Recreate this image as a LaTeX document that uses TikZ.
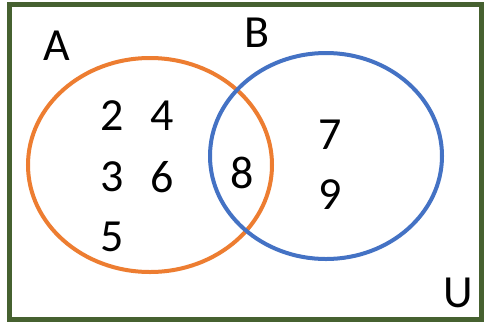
\documentclass[tikz,border=0pt]{standalone}
\usepackage{fontspec}
\setmainfont{Carlito}
\definecolor{frameG}{HTML}{466130}
\definecolor{setA}{HTML}{ED7D31}
\definecolor{setB}{HTML}{4472C4}
\begin{document}
\begin{tikzpicture}[x=1pt,y=-1pt,
  lbl/.style={inner sep=0pt, font=\fontsize{46}{46}\selectfont, text=black}]
\useasboundingbox (0,0) rectangle (484,322);
\fill[white] (0,0) rectangle (484,322);
\draw[frameG, line width=5pt] (9,4) rectangle (481,319);
\draw[setA, line width=4pt] (150,165) ellipse [x radius=122, y radius=107];
\draw[setB, line width=4pt] (326,156) ellipse [x radius=116, y radius=103];
\node[lbl] (lA) at (57,46) {A};
\node[lbl] (lB) at (257,33) {B};
\node[lbl] (lU) at (458,293) {U};
\node[lbl] (n2) at (112,116) {2};
\node[lbl] (n4) at (162,116) {4};
\node[lbl] (n3) at (112,177) {3};
\node[lbl] (n6) at (162,177) {6};
\node[lbl] (n5) at (112,237) {5};
\node[lbl] (n8) at (242,173) {8};
\node[lbl] (n7) at (330,135) {7};
\node[lbl] (n9) at (330,195) {9};
\end{tikzpicture}
\end{document}
